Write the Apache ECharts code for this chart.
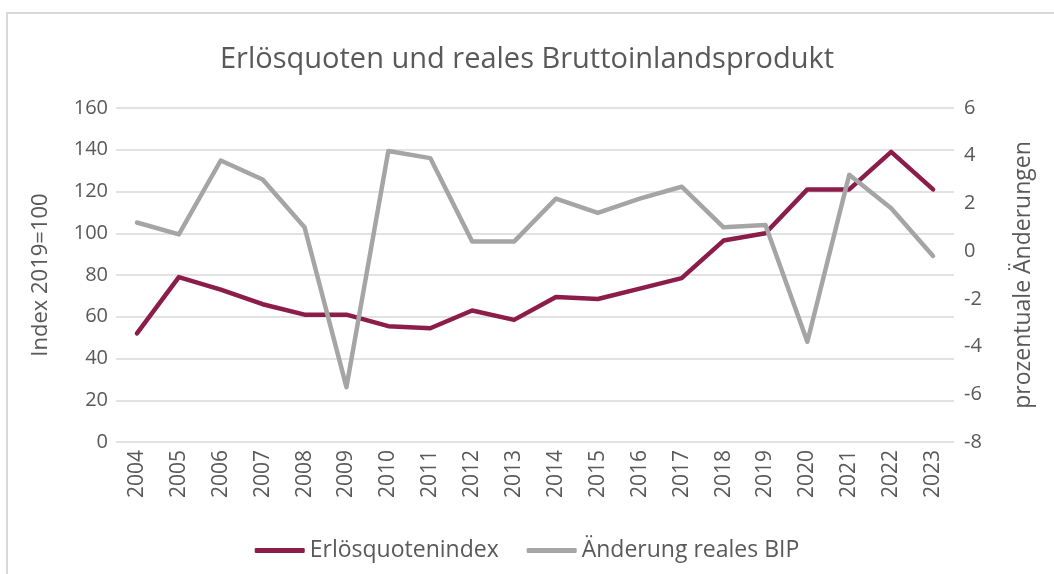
<!DOCTYPE html>
<html>
<head>
<meta charset="utf-8">
<script src="https://cdn.jsdelivr.net/npm/echarts@6/dist/echarts.min.js"></script>
<style>
  html, body { margin: 0; padding: 0; background: #fff; }
  #main { width: 1054px; height: 574px; }
</style>
</head>
<body>
<div id="main"></div>
<script>
var years = ['2004','2005','2006','2007','2008','2009','2010','2011','2012','2013',
             '2014','2015','2016','2017','2018','2019','2020','2021','2022','2023']
// Erlösquotenindex (linke Achse, 2019=100)
var erloesIndex = [52, 79, 73, 66, 61, 61, 55.5, 54.5, 63, 58.5,
                   69.5, 68.5, 73.5, 78.5, 96.5, 100, 121, 121, 139, 121]
// Änderung reales BIP in % (rechte Achse)
var bipAenderung = [1.2, 0.7, 3.8, 3.0, 1.0, -5.7, 4.2, 3.9, 0.4, 0.4,
                    2.2, 1.6, 2.2, 2.7, 1.0, 1.1, -3.8, 3.2, 1.8, -0.2]

var txt = '#595959'
var font = '"Open Sans", "Noto Sans", sans-serif'

var myChart = echarts.init(document.getElementById('main'))
var option = {
  animation: false,
  textStyle: { fontFamily: font },
  graphic: [{
    type: 'rect',
    shape: { x: 7, y: 13, width: 1100, height: 620 },
    style: { fill: 'none', stroke: '#d9d9d9', lineWidth: 2 },
    silent: true
  }],
  title: {
    text: 'Erlösquoten und reales Bruttoinlandsprodukt',
    left: 'center',
    top: 40,
    textStyle: { fontFamily: font, fontSize: 29, fontWeight: 'normal', color: txt }
  },
  legend: {
    bottom: 7,
    left: 'center',
    itemWidth: 50,
    itemHeight: 5,
    itemGap: 28,
    icon: 'roundRect',
    textStyle: { fontFamily: font, fontSize: 23, color: txt },
    data: ['Erlösquotenindex', 'Änderung reales BIP']
  },
  grid: { left: 116, right: 100, top: 108, bottom: 132 },
  xAxis: {
    type: 'category',
    data: years,
    boundaryGap: true,
    axisLine: { show: false },
    axisTick: { show: false },
    axisLabel: { rotate: 90, color: txt, fontSize: 21, fontFamily: font, margin: 8 }
  },
  yAxis: [{
    type: 'value',
    min: 0, max: 160, interval: 20,
    name: 'Index 2019=100',
    nameLocation: 'middle',
    nameGap: 64,
    nameTextStyle: { color: txt, fontSize: 22, fontFamily: font },
    axisLine: { show: false },
    axisTick: { show: false },
    axisLabel: { color: txt, fontSize: 20, fontFamily: font, margin: 8 },
    splitLine: { lineStyle: { color: '#d9d9d9', width: 1.5 } }
  }, {
    type: 'value',
    min: -8, max: 6, interval: 2,
    name: 'prozentuale Änderungen',
    nameLocation: 'middle',
    nameGap: 58,
    nameRotate: 90,
    nameTextStyle: { color: txt, fontSize: 23, fontFamily: font },
    axisLine: { show: false },
    axisTick: { show: false },
    axisLabel: { color: txt, fontSize: 20, fontFamily: font, margin: 10 },
    splitLine: { show: false }
  }],
  series: [{
    name: 'Erlösquotenindex',
    type: 'line',
    yAxisIndex: 0,
    data: erloesIndex,
    symbol: 'none',
    itemStyle: { color: '#8c1d4b' },
    lineStyle: { color: '#8c1d4b', width: 4.5, cap: 'round', join: 'round' }
  }, {
    name: 'Änderung reales BIP',
    type: 'line',
    yAxisIndex: 1,
    data: bipAenderung,
    symbol: 'none',
    itemStyle: { color: '#a5a5a5' },
    lineStyle: { color: '#a5a5a5', width: 4.5, cap: 'round', join: 'round' }
  }]
}
myChart.setOption(option)
</script>
</body>
</html>
